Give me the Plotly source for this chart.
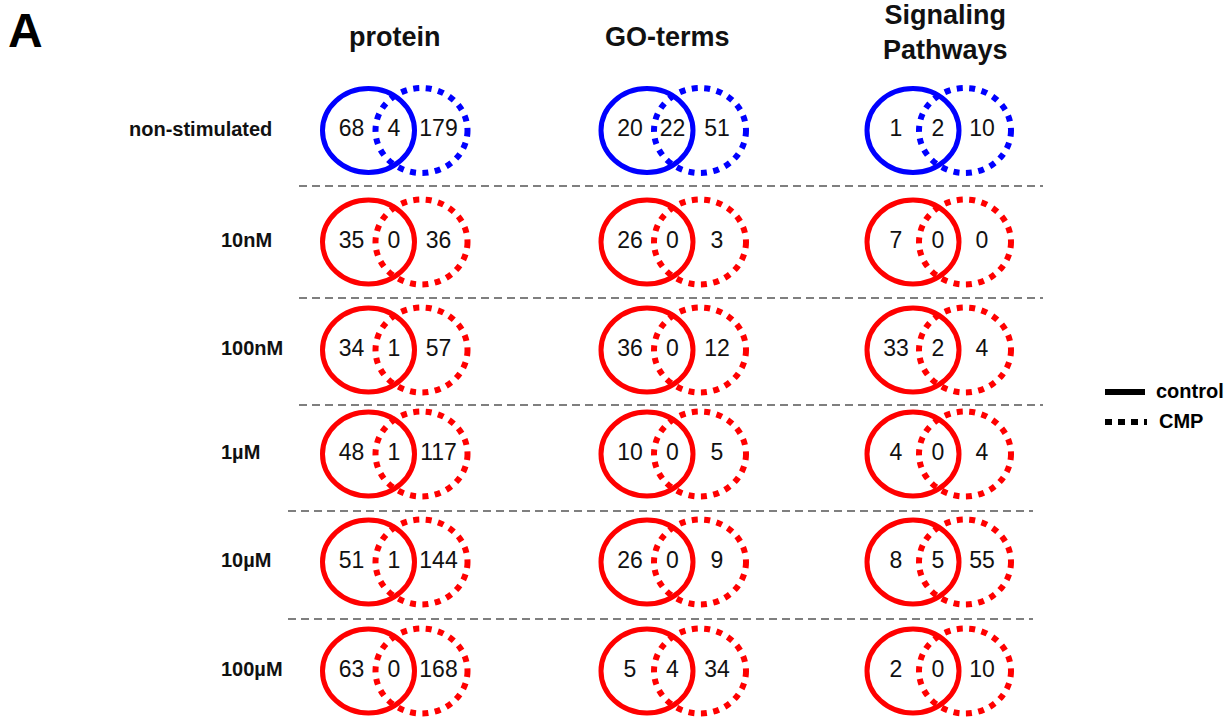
import plotly.graph_objects as go

# ---- data -------------------------------------------------------------
column_titles = ["protein", "GO-terms", "Signaling<br>Pathways"]
conditions = ["non-stimulated", "10nM", "100nM", "1µM", "10µM", "100µM"]

protein_control_only = [68, 35, 34, 48, 51, 63]
protein_shared = [4, 0, 1, 1, 1, 0]
protein_cmp_only = [179, 36, 57, 117, 144, 168]

goterm_control_only = [20, 26, 36, 10, 26, 5]
goterm_shared = [22, 0, 0, 0, 0, 4]
goterm_cmp_only = [51, 3, 12, 5, 9, 34]

pathway_control_only = [1, 7, 33, 4, 8, 2]
pathway_shared = [2, 0, 2, 0, 5, 0]
pathway_cmp_only = [10, 0, 4, 4, 55, 10]

legend_labels = ["control", "CMP"]

# ---- layout geometry (pixel-like coordinates) -------------------------
W, H = 1230, 721
col_solid_x = [368.5, 647, 913]     # centre of the control ellipse per column
col_dot_x = [421.5, 700, 965]       # centre of the CMP ellipse per column
title_x = [395, 667, 945]
title_y = [37, 37, 32]
row_y = [130.5, 242, 350, 454, 562, 671]
sep_y = [186, 298, 405, 511, 619]
sep_x = [(299, 1043), (299, 1043), (299, 1043), (288, 1033), (288, 1033)]
RX, RY = 46, 42.5

FONT = "Liberation Sans, Arial, sans-serif"
BLUE, RED = "#0000ff", "#ff0000"

columns = [
    (protein_control_only, protein_shared, protein_cmp_only),
    (goterm_control_only, goterm_shared, goterm_cmp_only),
    (pathway_control_only, pathway_shared, pathway_cmp_only),
]

shapes = []
annotations = []
tx, ty, tt = [], [], []

for c, (ctrl, both, cmp_) in enumerate(columns):
    xs, xd = col_solid_x[c], col_dot_x[c]
    for r, y in enumerate(row_y):
        color = BLUE if r == 0 else RED
        # CMP ellipse (dotted) under the control ellipse (solid)
        shapes.append(dict(type="circle", xref="x", yref="y",
                           x0=xd - RX, x1=xd + RX, y0=y - RY, y1=y + RY,
                           line=dict(color=color, width=6, dash="6px,6.5px"),
                           layer="above"))
        shapes.append(dict(type="circle", xref="x", yref="y",
                           x0=xs - RX, x1=xs + RX, y0=y - RY + 0.5, y1=y + RY - 0.5,
                           line=dict(color=color, width=5), layer="above"))
        tx += [xs - 17, (xs + xd) / 2 - 1, xd + 17]
        ty += [y, y, y]
        tt += [str(ctrl[r]), str(both[r]), str(cmp_[r])]

# dashed separators between conditions
for y, (x0, x1) in zip(sep_y, sep_x):
    shapes.append(dict(type="line", xref="x", yref="y", x0=x0, x1=x1, y0=y, y1=y,
                       line=dict(color="#555555", width=1.5, dash="8px,5px")))

# column headers
for c, title in enumerate(column_titles):
    annotations.append(dict(x=title_x[c], y=title_y[c], text="<b>%s</b>" % title,
                            showarrow=False, align="center",
                            font=dict(family=FONT, size=27, color="#111")))

# condition labels
for r, label in enumerate(conditions):
    annotations.append(dict(x=127 if r == 0 else 219, y=row_y[r] - 2, xanchor="left",
                            text="<b>%s</b>" % label, showarrow=False,
                            font=dict(family=FONT, size=20, color="#111")))

# panel letter
annotations.append(dict(x=6, y=30, xanchor="left", text="<b>A</b>", showarrow=False,
                        font=dict(family=FONT, size=48, color="#000")))

# legend
shapes.append(dict(type="line", xref="x", yref="y", x0=1105, x1=1145, y0=392, y1=392,
                   line=dict(color="#000", width=6)))
shapes.append(dict(type="line", xref="x", yref="y", x0=1105, x1=1147, y0=422, y1=422,
                   line=dict(color="#000", width=6, dash="7px,6px")))
annotations.append(dict(x=1154, y=391, xanchor="left", text="<b>%s</b>" % legend_labels[0],
                        showarrow=False, font=dict(family=FONT, size=20, color="#000")))
annotations.append(dict(x=1157, y=421, xanchor="left", text="<b>%s</b>" % legend_labels[1],
                        showarrow=False, font=dict(family=FONT, size=20, color="#000")))

fig = go.Figure(go.Scatter(x=tx, y=ty, text=tt, mode="text", textposition="middle center",
                           textfont=dict(family=FONT, size=23, color="#111"),
                           hoverinfo="skip", showlegend=False))
fig.update_layout(
    width=W, height=H, autosize=False,
    margin=dict(l=0, r=0, t=0, b=0),
    paper_bgcolor="white", plot_bgcolor="white",
    shapes=shapes, annotations=annotations,
    xaxis=dict(range=[0, W], visible=False, fixedrange=True),
    yaxis=dict(range=[H, 0], visible=False, fixedrange=True),
    showlegend=False,
)
fig.write_html("out.html")
